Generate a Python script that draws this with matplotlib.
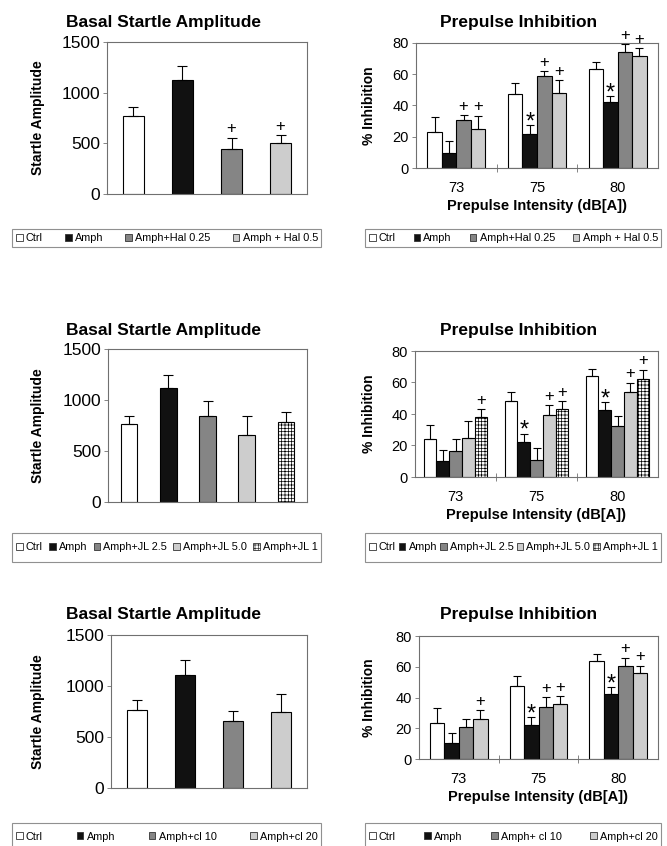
import numpy as np
import matplotlib
matplotlib.use('Agg')
import matplotlib.pyplot as plt
import matplotlib.patches as mpatches

plt.rcParams['font.family'] = ['Liberation Sans', 'DejaVu Sans']
plt.rcParams['hatch.linewidth'] = 0.5

# 数据
labels_hal = ['Ctrl', 'Amph', 'Amph+Hal 0.25', 'Amph + Hal 0.5']
labels_jl = ['Ctrl', 'Amph', 'Amph+JL 2.5', 'Amph+JL 5.0', 'Amph+JL 1']
labels_cl_left = ['Ctrl', 'Amph', 'Amph+cl 10', 'Amph+cl 20']
labels_cl_right = ['Ctrl', 'Amph', 'Amph+ cl 10', 'Amph+cl 20']
levels = ['73', '75', '80']

basal_hal_mean = [766, 1122, 441, 503]
basal_hal_sem = [92, 138, 115, 79]
basal_jl_mean = [765, 1116, 847, 660, 784]
basal_jl_sem = [82, 131, 148, 187, 96]
basal_cl_mean = [760, 1107, 658, 747]
basal_cl_sem = [98, 147, 99, 173]

# 每行一个处理组，列为 73/75/80
ppi_hal_mean = [[23.3, 47.3, 63.5], [9.4, 21.8, 42.4], [30.8, 59.0, 74.2], [24.8, 47.9, 71.9]]
ppi_hal_sem = [[9.2, 7.2, 4.3], [7.7, 5.6, 3.4], [3.0, 3.0, 5.2], [8.6, 8.4, 4.9]]
ppi_jl_mean = [[23.9, 48.3, 64.1], [10.2, 22.4, 42.8], [16.7, 11.0, 32.2], [25.0, 39.4, 54.2], [38.1, 43.2, 62.0]]
ppi_jl_sem = [[9.1, 5.9, 4.5], [7.2, 5.1, 4.6], [7.2, 7.4, 6.3], [10.6, 6.3, 5.7], [5.1, 5.1, 6.1]]
ppi_cl_mean = [[23.4, 47.5, 63.7], [10.2, 21.9, 42.1], [20.6, 33.6, 60.7], [25.8, 35.8, 55.7]]
ppi_cl_sem = [[9.8, 6.7, 4.4], [6.5, 5.2, 4.7], [5.2, 6.7, 5.2], [5.9, 5.2, 5.0]]

# 显著性标记 (组, 强度, 符号)
basal_hal_marks = [(2, '+'), (3, '+')]
ppi_hal_marks = [(2, 0, '+'), (3, 0, '+'), (1, 1, '*'), (2, 1, '+'), (3, 1, '+'),
                 (1, 2, '*'), (2, 2, '+'), (3, 2, '+')]
ppi_jl_marks = [(4, 0, '+'), (1, 1, '*'), (3, 1, '+'), (4, 1, '+'),
                (1, 2, '*'), (3, 2, '+'), (4, 2, '+')]
ppi_cl_marks = [(3, 0, '+'), (1, 1, '*'), (2, 1, '+'), (3, 1, '+'),
                (1, 2, '*'), (2, 2, '+'), (3, 2, '+')]

colors4 = ['white', '#111111', '#858585', '#cdcdcd']
colors5 = ['white', '#111111', '#858585', '#cdcdcd', 'white']
hatches5 = [None, None, None, None, '+++++']

W, H = 667, 846
fig = plt.figure(figsize=(W / 100, H / 100), dpi=100)


def box(x0, y0, x1, y1):
    return [x0 / W, 1 - y1 / H, (x1 - x0) / W, (y1 - y0) / H]


def style(ax):
    for s in ax.spines.values():
        s.set_color('#707070')
        s.set_linewidth(0.8)
    ax.tick_params(axis='y', length=3, width=0.6, color='#707070', pad=2)


def mark(ax, x, y, sym):
    fs = 12 if sym == '+' else 17
    dy = 1 if sym == '+' else -6
    ax.annotate(sym, (x, y), xytext=(0, dy), textcoords='offset points',
                ha='center', va='bottom', fontsize=fs)


def basal(rect, mean, sem, colors, hatches, marks):
    ax = fig.add_axes(box(*rect))
    n = len(mean)
    x = np.arange(n)
    for i in range(n):
        ax.bar(x[i], mean[i], 0.42, color=colors[i], edgecolor='black', lw=0.8,
               hatch=hatches[i] if hatches else None, zorder=2)
    ax.errorbar(x, mean, yerr=[np.zeros(n), sem], fmt='none', ecolor='black',
                elinewidth=0.8, capsize=3.5, capthick=0.8, zorder=3)
    for i, s in marks:
        mark(ax, x[i], mean[i] + sem[i], s)
    ax.set_xlim(-0.54, n - 0.46)
    ax.set_ylim(0, 1500)
    ax.set_yticks([0, 500, 1000, 1500])
    ax.set_xticks([])
    ax.tick_params(axis='y', labelsize=12.5)
    style(ax)
    return ax


def ppi(rect, mean, sem, colors, hatches, marks, bw):
    ax = fig.add_axes(box(*rect))
    ns = len(mean)
    g = np.arange(len(levels))
    for i in range(ns):
        xs = g + (i - (ns - 1) / 2) * bw
        ax.bar(xs, mean[i], bw, color=colors[i], edgecolor='black', lw=0.8,
               hatch=hatches[i] if hatches else None, zorder=2)
        ax.errorbar(xs, mean[i], yerr=[np.zeros(len(g)), sem[i]], fmt='none',
                    ecolor='black', elinewidth=0.8, capsize=3, capthick=0.8, zorder=3)
    for i, j, s in marks:
        xs = g[j] + (i - (ns - 1) / 2) * bw
        mark(ax, xs, mean[i][j] + sem[i][j], s)
    ax.set_xlim(-0.5, 2.5)
    ax.set_ylim(0, 80)
    ax.set_yticks([0, 20, 40, 60, 80])
    ax.set_xticks(g)
    ax.set_xticklabels(levels)
    ax.set_xticks([0.5, 1.5], minor=True)
    ax.tick_params(axis='x', which='major', length=0, labelsize=10.5, pad=9)
    ax.tick_params(axis='x', which='minor', length=6, width=0.6, color='#707070', direction='inout')
    ax.tick_params(axis='y', labelsize=10.5)
    style(ax)
    ax.set_xlabel('Prepulse Intensity (dB[A])', fontsize=10.5, fontweight='bold', labelpad=3)
    return ax


def legend(labels, rect, fs=7.8):
    x0, y0, x1, y1 = rect
    five = len(labels) == 5
    # 图例外框
    fig.patches.append(mpatches.Rectangle((x0 / W, 1 - y1 / H), (x1 - x0) / W, (y1 - y0) / H,
                                          transform=fig.transFigure, fill=False,
                                          edgecolor='#909090', lw=0.8))
    hs = []
    for c, h in zip(colors5 if five else colors4, hatches5 if five else [None] * 4):
        hs.append(mpatches.Patch(facecolor=c, edgecolor='#333333', lw=0.6, hatch=h))
    fig.legend(hs, labels, loc='center', bbox_to_anchor=box(x0 + 3, y0, x1 - 2, y1),
               mode='expand', ncol=len(labels), fontsize=fs, handlelength=0.6,
               handleheight=0.6, handletextpad=0.3, columnspacing=0.3,
               borderaxespad=0, borderpad=0.1, frameon=False)


rows = [
    dict(y_ax=(42, 194), y_ppi=(43, 168), title_y=22, leg=(229, 247), lx=107, rx=416,
         bm=basal_hal_mean, bs=basal_hal_sem, bmk=basal_hal_marks,
         pm=ppi_hal_mean, ps=ppi_hal_sem, pmk=ppi_hal_marks, bw=0.18,
         cols=colors4, hat=None, ll=labels_hal, lr=labels_hal),
    dict(y_ax=(349, 502), y_ppi=(351, 477), title_y=330, leg=(533, 562), lx=108, rx=415,
         bm=basal_jl_mean, bs=basal_jl_sem, bmk=[],
         pm=ppi_jl_mean, ps=ppi_jl_sem, pmk=ppi_jl_marks, bw=0.157,
         cols=colors5, hat=hatches5, ll=labels_jl, lr=labels_jl),
    dict(y_ax=(635, 788), y_ppi=(636, 759), title_y=614, leg=(823, 850), lx=111, rx=419,
         bm=basal_cl_mean, bs=basal_cl_sem, bmk=[],
         pm=ppi_cl_mean, ps=ppi_cl_sem, pmk=ppi_cl_marks, bw=0.18,
         cols=colors4, hat=None, ll=labels_cl_left, lr=labels_cl_right),
]

for r in rows:
    basal((r['lx'], r['y_ax'][0], 307, r['y_ax'][1]), r['bm'], r['bs'], r['cols'], r['hat'], r['bmk'])
    ppi((r['rx'], r['y_ppi'][0], 658, r['y_ppi'][1]), r['pm'], r['ps'], r['cols'], r['hat'], r['pmk'], r['bw'])
    fig.text(164 / W, 1 - r['title_y'] / H, 'Basal Startle Amplitude', ha='center', va='center',
             fontsize=12.5, fontweight='bold')
    fig.text(519 / W, 1 - r['title_y'] / H, 'Prepulse Inhibition', ha='center', va='center',
             fontsize=12.5, fontweight='bold')
    fig.text(38 / W, 1 - (r['y_ax'][0] + r['y_ax'][1]) / 2 / H, 'Startle Amplitude', rotation=90,
             ha='center', va='center', fontsize=10, fontweight='bold')
    fig.text(369 / W, 1 - (r['y_ppi'][0] + r['y_ppi'][1]) / 2 / H, '% Inhibition', rotation=90,
             ha='center', va='center', fontsize=10, fontweight='bold')
    legend(r['ll'], (12, r['leg'][0], 321, r['leg'][1]))
    legend(r['lr'], (365, r['leg'][0], 661, r['leg'][1]))

fig.savefig('out.png', dpi=100, facecolor='white')
